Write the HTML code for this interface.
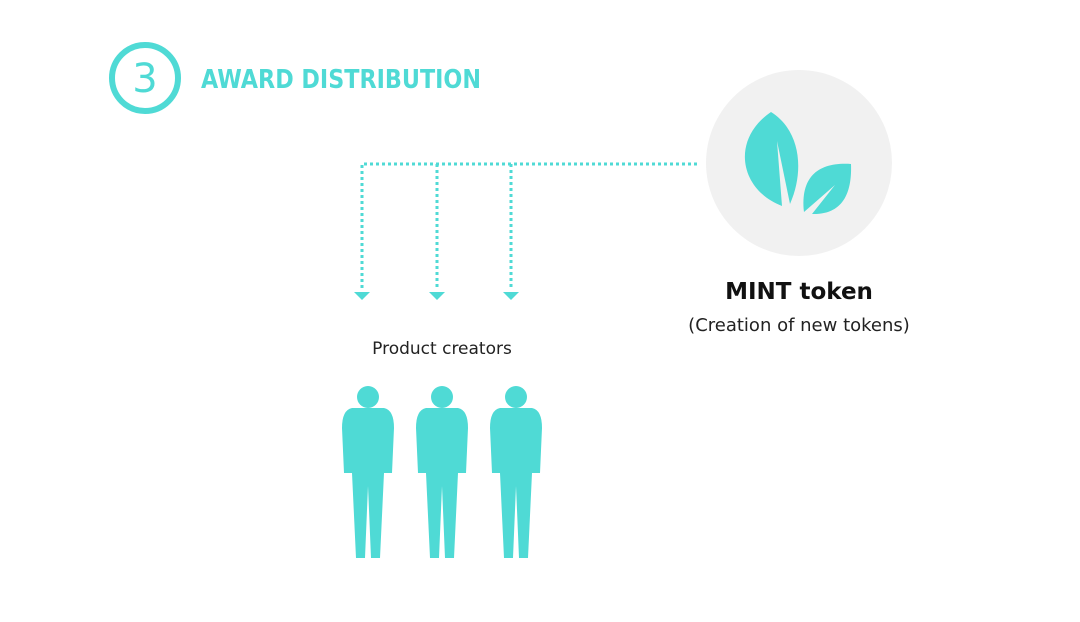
<!DOCTYPE html>
<html><head><meta charset="utf-8"><style>
html,body{margin:0;padding:0;background:#fff;}
svg{display:block}
text{font-family:"DejaVu Sans","Liberation Sans",sans-serif}
</style></head><body>
<svg width="1080" height="622" viewBox="0 0 1080 622" xmlns="http://www.w3.org/2000/svg">
<rect width="1080" height="622" fill="#fff"/>
<circle cx="145" cy="78" r="33" fill="none" stroke="#4fdad5" stroke-width="6"/>
<text x="145" y="92" text-anchor="middle" font-size="40" fill="#4fdad5">3</text>
<text x="201" y="88" font-size="26" font-weight="bold" fill="#4fdad5" textLength="280" lengthAdjust="spacingAndGlyphs">AWARD DISTRIBUTION</text>
<circle cx="799" cy="163" r="93" fill="#f1f1f1"/>
<path d="M771 112 C730 140 740 190 782 206 L777 141 L790 204 C805 170 800 130 771 112 Z" fill="#4fdad5"/>
<path d="M851 164 C820 162 800 175 804 212 L835 185 L812 214 C845 215 852 190 851 164 Z" fill="#4fdad5"/>
<g stroke="#4fdad5" stroke-width="3" stroke-dasharray="3 3" fill="none">
<path d="M697 164 H362 V290"/>
<path d="M437 164 V290"/>
<path d="M511 164 V290"/>
</g>
<g fill="#4fdad5">
<path d="M354 292 H370 L362 300 Z"/>
<path d="M429 292 H445 L437 300 Z"/>
<path d="M503 292 H519 L511 300 Z"/>
</g>
<text x="799" y="299" text-anchor="middle" font-size="23" font-weight="bold" fill="#111">MINT token</text>
<text x="799" y="331" text-anchor="middle" font-size="18" fill="#222">(Creation of new tokens)</text>
<text x="442" y="354" text-anchor="middle" font-size="17" fill="#222">Product creators</text>
<defs>
<g id="p">
<circle cx="0" cy="1" r="11"/>
<path d="M-16 12 Q-26 14 -26 32 L-24 77 L-16 77 L-12 162 L-3 162 L0 90 L3 162 L12 162 L16 77 L24 77 L26 32 Q26 14 16 12 Z"/>
</g>
</defs>
<g fill="#4fdad5">
<use href="#p" x="368" y="396"/>
<use href="#p" x="442" y="396"/>
<use href="#p" x="516" y="396"/>
</g>
</svg>
</body></html>
